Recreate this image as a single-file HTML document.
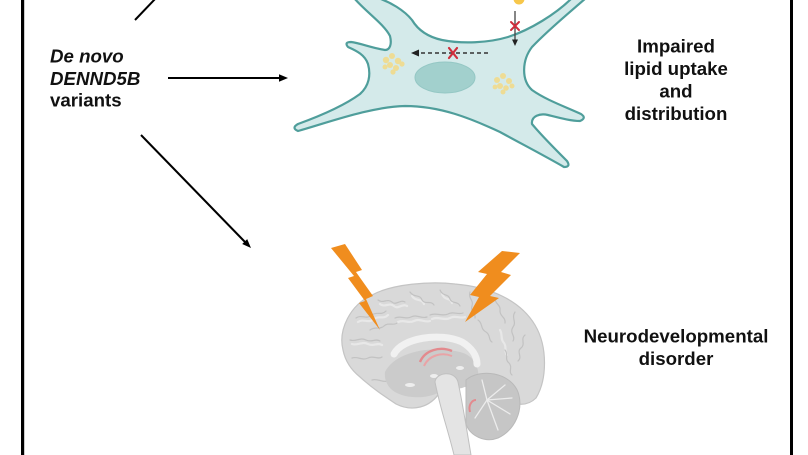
<!DOCTYPE html>
<html>
<head>
<meta charset="utf-8">
<style>
  html,body{margin:0;padding:0;background:#fff;}
  body{width:808px;height:455px;overflow:hidden;}
  svg{display:block;}
  .t{font-family:"Liberation Sans",Arial,sans-serif;font-weight:bold;font-size:18.7px;fill:#111;}
</style>
</head>
<body>
<svg width="808" height="455" viewBox="0 0 808 455" xmlns="http://www.w3.org/2000/svg">
  <rect x="0" y="0" width="808" height="455" fill="#fff"/>
  <!-- frame side borders -->
  <rect x="21" y="0" width="3.2" height="455" fill="#000"/>
  <rect x="790" y="0" width="3" height="455" fill="#000"/>

  <!-- left label -->
  <text class="t" x="50" y="62.5" font-style="italic">De novo</text>
  <text class="t" x="50" y="85" font-style="italic">DENND5B</text>
  <text class="t" x="50" y="106.7">variants</text>

  <!-- connectors -->
  <line x1="135" y1="20" x2="156" y2="-2" stroke="#000" stroke-width="2"/>
  <line x1="168" y1="78" x2="281" y2="78" stroke="#000" stroke-width="2"/>
  <polygon points="288,78 279,74.3 279,81.7" fill="#000"/>
  <line x1="141" y1="135" x2="245" y2="242" stroke="#000" stroke-width="2"/>
  <polygon points="251,248 242.2,244 247.2,239.1" fill="#000"/>

  <!-- cell -->
  <path d="M354,-2 C366,12 384,24 390,36 C392,44 390,50 385,50 C372,48 360,43 351,42 Q344,42 348,47 C357,51 365,55 368,64 C371,75 369,86 360,94 C345,105 320,116 298,124 Q291,128 298,131 C330,122 370,107 405,106 C440,106 470,118 500,132 C520,143 545,156 564,167 Q571,167 567,161 C554,148 541,135 532,124 C531,116 540,113 548,115 C560,118 571,121 580,121 Q587,118 581,114 C566,107 546,100 532,90 C521,80 522,60 532,47 C548,30 570,12 586,-2 L572,-2 C556,14 530,30 508,37 C488,43 462,44 442,40 C428,37 418,30 412,20 C404,10 390,2 378,-2 Z"
        fill="#d4eaea" stroke="#4f9e9b" stroke-width="2.2" stroke-linejoin="round"/>
  <!-- nucleus -->
  <ellipse cx="445" cy="77.5" rx="30" ry="15.5" fill="#a2d0cd" stroke="#94c7c4" stroke-width="1"/>
  <!-- lipid clusters -->
  <g fill="#f3da86" opacity="0.85">
    <circle cx="386" cy="60" r="3.2"/><circle cx="392" cy="56" r="3"/><circle cx="398" cy="61" r="3.2"/>
    <circle cx="390" cy="65" r="3"/><circle cx="396" cy="68" r="3"/><circle cx="402" cy="64" r="2.6"/>
    <circle cx="385" cy="67" r="2.5"/><circle cx="393" cy="72" r="2.6"/>
    <circle cx="497" cy="80" r="3"/><circle cx="503" cy="76" r="3"/><circle cx="509" cy="81" r="3"/>
    <circle cx="500" cy="86" r="3"/><circle cx="506" cy="88" r="2.8"/><circle cx="512" cy="86" r="2.5"/>
    <circle cx="495" cy="87" r="2.4"/><circle cx="503" cy="92" r="2.5"/>
  </g>
  <!-- dashed arrow -->
  <line x1="488" y1="53" x2="418" y2="53" stroke="#333" stroke-width="1.6" stroke-dasharray="4,3"/>
  <polygon points="411,53 419,49.5 419,56.5" fill="#222"/>
  <g stroke="#cf2e3c" stroke-width="2.2" stroke-linecap="round">
    <line x1="449" y1="48" x2="457" y2="58"/><line x1="457" y1="48" x2="449" y2="58"/>
  </g>
  <!-- vertical arrow -->
  <circle cx="519" cy="-1" r="5.5" fill="#f7c74a"/>
  <line x1="515" y1="11" x2="515" y2="40" stroke="#444" stroke-width="1.3"/>
  <polygon points="515,46 512,39.5 518,39.5" fill="#222"/>
  <g stroke="#cf2e3c" stroke-width="2" stroke-linecap="round">
    <line x1="511" y1="22" x2="519" y2="30"/><line x1="519" y1="22" x2="511" y2="30"/>
  </g>

  <!-- right labels -->
  <text class="t" x="676" y="52.7" text-anchor="middle">Impaired</text>
  <text class="t" x="676" y="75.2" text-anchor="middle">lipid uptake</text>
  <text class="t" x="676" y="97.6" text-anchor="middle">and</text>
  <text class="t" x="676" y="120" text-anchor="middle">distribution</text>
  <text class="t" x="676" y="342.5" text-anchor="middle">Neurodevelopmental</text>
  <text class="t" x="676" y="365" text-anchor="middle">disorder</text>

  <!-- brain -->
  <path d="M343,350 C338,330 350,305 372,295 C392,284 430,281 455,284 C490,287 520,300 535,325 C548,347 547,380 536,398 C528,406 518,405 510,402 L470,385 L440,392 C430,408 412,412 396,404 C384,396 372,388 360,377 C350,369 345,360 343,350 Z"
        fill="#d9d9d9" stroke="#c4c4c4" stroke-width="1.2"/>
  <!-- gyri highlights -->
  <g fill="none" stroke="#e8e8e8" stroke-width="2.2" stroke-linecap="round">
    <path d="M358,322 c6,-4 10,2 16,-3 c5,-4 9,1 14,-4"/>
    <path d="M380,304 c5,4 9,-2 14,2 c4,4 8,-3 13,0"/>
    <path d="M412,296 c4,6 10,2 12,8"/>
    <path d="M442,294 c3,7 8,3 10,9"/>
    <path d="M352,344 c6,2 10,-3 16,0 c6,3 9,-2 14,1"/>
    <path d="M398,322 c6,-3 10,2 16,-1 c6,-3 10,2 16,0"/>
    <path d="M432,319 c6,-3 12,2 18,-1 c5,-3 10,1 15,-1"/>
    <path d="M500,330 c3,5 0,9 4,13 c3,4 0,9 3,12"/>
  </g>
  <!-- gyri -->
  <g fill="none" stroke="#c2c2c2" stroke-width="1.2" stroke-linecap="round">
    <path d="M356,318 c6,-4 10,2 16,-3 c5,-4 9,1 14,-4"/>
    <path d="M378,300 c5,4 9,-2 14,2 c4,4 8,-3 13,0"/>
    <path d="M410,292 c4,6 10,2 12,8 c3,5 9,0 12,5"/>
    <path d="M440,290 c3,7 8,3 10,9 c2,5 8,2 10,7"/>
    <path d="M470,292 c-2,7 4,8 2,14 c-2,6 4,7 3,12"/>
    <path d="M495,298 c0,7 6,6 5,13 c0,6 6,6 5,12"/>
    <path d="M515,312 c-4,6 2,10 -2,15 c-4,6 3,9 0,14"/>
    <path d="M525,335 c-5,4 1,9 -4,13 c-5,4 2,9 -3,13"/>
    <path d="M350,340 c6,2 10,-3 16,0 c6,3 9,-2 14,1"/>
    <path d="M352,358 c6,-2 10,3 16,0 c5,-3 10,2 14,-1"/>
    <path d="M370,330 c5,-4 10,0 14,-4 c4,-4 10,0 13,-3"/>
    <path d="M505,350 c4,5 -1,9 4,13 c4,4 -1,9 3,12"/>
    <path d="M372,380 c6,-2 10,3 16,1 c6,-2 10,2 14,0"/>
    <path d="M395,318 c6,-3 10,2 16,-1 c6,-3 10,2 16,0"/>
    <path d="M430,315 c6,-3 12,2 18,-1 c5,-3 10,1 15,-1"/>
    <path d="M478,320 c5,3 2,9 8,12 c5,3 2,8 6,10"/>
  </g>
  <!-- inner darker region -->
  <path d="M385,372 C395,352 430,345 460,352 C475,356 480,368 478,382 L462,388 L440,392 C425,400 405,398 395,392 C388,388 384,380 385,372 Z" fill="#cbcbcb"/>
  <!-- corpus callosum -->
  <path d="M394,354 C402,338 440,332 462,342 C472,348 477,356 477,364" fill="none" stroke="#f1f1f1" stroke-width="7" stroke-linecap="round"/>
  <!-- red fornix arcs -->
  <path d="M420,362 C425,350 440,346 452,351" fill="none" stroke="#e38a8e" stroke-width="2.4"/>
  <path d="M424,366 C429,355 442,352 452,356" fill="none" stroke="#e9a3a6" stroke-width="2"/>
  <!-- small white spots -->
  <ellipse cx="434" cy="376" rx="4" ry="2" fill="#eee"/>
  <ellipse cx="460" cy="368" rx="4" ry="2" fill="#eee"/>
  <ellipse cx="410" cy="385" rx="5" ry="2" fill="#eee"/>
  <!-- cerebellum -->
  <path d="M466,380 C480,368 510,372 518,392 C524,410 515,430 498,438 C485,443 470,436 466,424 Z" fill="#c6c6c6" stroke="#b9b9b9" stroke-width="1"/>
  <g stroke="#ececec" stroke-width="1.3" fill="none" stroke-linecap="round">
    <path d="M487,400 L505,385"/><path d="M487,400 L512,398"/><path d="M487,400 L510,414"/>
    <path d="M487,400 L498,430"/><path d="M487,400 L482,380"/><path d="M487,400 L475,418"/>
  </g>
  <path d="M470,412 C468,405 472,400 476,400" fill="none" stroke="#e38a8e" stroke-width="2"/>
  <!-- brainstem -->
  <path d="M435,382 C436,372 455,370 458,382 C462,400 466,425 471,455 L454,455 C448,430 440,408 435,382 Z" fill="#e4e4e4" stroke="#c0c0c0" stroke-width="1"/>

  <!-- lightning bolts -->
  <polygon points="331,248 345,244 362,270 356,272 373,296 366,299 380,330 359,303 365,301 348,278 354,276" fill="#f08d1e"/>
  <polygon points="502,251 520,253 501,272 511,275 490,296 499,298 465,322 479,297 470,295 487,274 478,272" fill="#f08d1e"/>
</svg>
</body>
</html>
